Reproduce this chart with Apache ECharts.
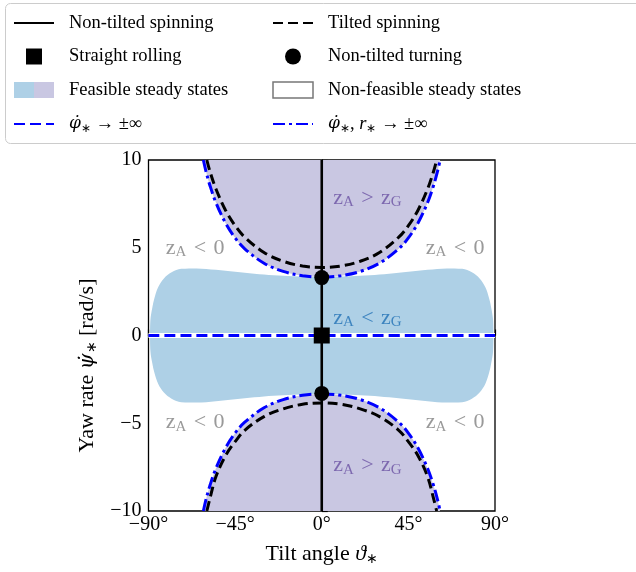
<!DOCTYPE html>
<html>
<head>
<meta charset="utf-8">
<script src="https://cdn.jsdelivr.net/npm/echarts/dist/echarts.min.js"></script>
<style>
html, body { margin: 0; padding: 0; background: #fff; }
#chart { width: 636px; height: 572px; }
</style>
</head>
<body>
<div id="chart"></div>
<script>
// values: tilt angle [deg] vs yaw rate [rad/s]
var tiltAngle = [-59.7, -58, -55, -50, -45, -40, -30, -20, -10, 0, 10, 20, 30, 40, 45, 50, 55, 58, 59.7]
var tiltUpper = [10, 9.32, 8.36, 7.14, 6.26, 5.6, 4.73, 4.23, 3.96, 3.88, 3.96, 4.23, 4.73, 5.6, 6.26, 7.14, 8.36, 9.32, 10]
var tiltLower = [-10, -9.25, -8.05, -6.85, -6.05, -5.4, -4.62, -4.18, -3.92, -3.84, -3.92, -4.18, -4.62, -5.4, -6.05, -6.85, -8.05, -9.25, -10]

var limitAngle = [-61.5, -60, -58, -55, -50, -45, -40, -30, -20, -10, 0, 10, 20, 30, 40, 45, 50, 55, 58, 60, 61.5]
var limitUpper = [10, 9.29, 8.52, 7.58, 6.41, 5.56, 4.94, 4.12, 3.65, 3.41, 3.33, 3.41, 3.65, 4.12, 4.94, 5.56, 6.41, 7.58, 8.52, 9.29, 10]
var limitLower = [-10, -9.29, -8.52, -7.58, -6.41, -5.56, -4.94, -4.12, -3.65, -3.41, -3.33, -3.41, -3.65, -4.12, -4.94, -5.56, -6.41, -7.58, -8.52, -9.29, -10]

var feasibleAngle = [-89.2, -89, -88, -87, -85, -82, -78, -73, -65, -55, -45, -35, -25, -15, 0, 15, 25, 35, 45, 55, 65, 73, 78, 82, 85, 87, 88, 89, 89.2]
var feasibleUpper = [0, 0.9, 1.6, 2.1, 2.75, 3.25, 3.6, 3.8, 3.82, 3.74, 3.63, 3.52, 3.43, 3.37, 3.33, 3.37, 3.43, 3.52, 3.63, 3.74, 3.82, 3.8, 3.6, 3.25, 2.75, 2.1, 1.6, 0.9, 0]
var feasibleLower = [0, -0.9, -1.6, -2.1, -2.75, -3.25, -3.6, -3.8, -3.82, -3.74, -3.63, -3.52, -3.43, -3.37, -3.33, -3.37, -3.43, -3.52, -3.63, -3.74, -3.82, -3.8, -3.6, -3.25, -2.75, -2.1, -1.6, -0.9, 0]

var turningRate = [3.3, -3.3]
var xTicks = [-90, -45, 0, 45, 90]
var yTicks = [-10, -5, 0, 5, 10]

// region labels
var noteAngle = [6, 6, 6, -81, 54, -81, 54]
var noteRate = [7.85, -7.4, 1.0, 5.0, 5.0, -4.95, -4.95]
var noteKind = ['gt', 'gt', 'ltG', 'lt0', 'lt0', 'lt0', 'lt0']

var BLUE_AREA = '#aed0e6'
var PURPLE_AREA = '#c9c7e2'
var SERIF = 'Liberation Serif'
var MATH = 'DejaVu Serif'

function zip(xs, ys) {
  return xs.map(function(x, i) { return [x, ys[i]] })
}
function minus(v) {
  return v < 0 ? '\u2212' + Math.abs(v) : String(v)
}

var legendText = {
  phiInf: '{d|\u03c6\u0307}{s|\u2217} \u2192 \u00b1\u221e',
  phiRInf: '{d|\u03c6\u0307}{s|\u2217}, {i|r}{s|\u2217} \u2192 \u00b1\u221e'
}
// math spacing round the relation signs
var noteText = {
  gt: '{z|z}{a|A}{z|\u2004>\u2004z}{a|G}',
  ltG: '{z|z}{a|A}{z|\u2004<\u2004z}{a|G}',
  lt0: '{z|z}{a|A}{z|\u2004<\u20040}'
}
var noteColor = { gt: '#6a51a3', ltG: '#2171b5', lt0: '#808080' }

var legendRich = {
  d: { fontStyle: 'italic', fontSize: 17, fontFamily: MATH, lineHeight: 20 },
  i: { fontStyle: 'italic', fontSize: 18.5, fontFamily: SERIF, lineHeight: 20 },
  s: { fontSize: 12, fontFamily: SERIF, lineHeight: 20, padding: [9, 0, 0, 0] }
}

var nameRich = {
  t: { fontSize: 22, fontFamily: SERIF, color: '#000', lineHeight: 22 },
  i: { fontSize: 22, fontFamily: SERIF, fontStyle: 'italic', color: '#000', lineHeight: 22 },
  d: { fontSize: 20, fontFamily: MATH, fontStyle: 'italic', color: '#000', lineHeight: 22 },
  s: { fontSize: 14, fontFamily: SERIF, color: '#000', lineHeight: 22, padding: [10, 0, 0, 0] }
}

function lineSeries(name, data, color, width, type) {
  return {
    name: name,
    type: 'line',
    z: 3,
    data: data,
    symbol: 'none',
    smooth: 0.35,
    silent: true,
    lineStyle: { color: color, width: width, type: type },
    itemStyle: { color: color }
  }
}

function areaSeries(name, data, color, origin) {
  return {
    name: name,
    type: 'line',
    z: 1,
    data: data,
    symbol: 'none',
    smooth: 0.35,
    silent: true,
    lineStyle: { width: 0 },
    itemStyle: { color: color },
    areaStyle: { color: color, opacity: 1, origin: origin }
  }
}

var chart = echarts.init(document.getElementById('chart'), null, { renderer: 'canvas' })

var hideSymbol = { opacity: 0 }

var legendBase = {
  orient: 'vertical',
  top: 13,
  padding: 0,
  itemWidth: 40,
  itemHeight: 16,
  itemGap: 13.5,
  selectedMode: false,
  textStyle: {
    fontFamily: SERIF,
    fontSize: 18.5,
    lineHeight: 20,
    color: '#000',
    padding: [0, 0, 0, 10],
    rich: legendRich
  },
  formatter: function(name) {
    return legendText[name] || name
  }
}

chart.setOption({
  animation: false,
  textStyle: { fontFamily: SERIF },
  graphic: [{
    type: 'rect',
    z: 0,
    shape: { x: 5.5, y: 3.5, width: 660, height: 140, r: 5 },
    style: { fill: '#fff', stroke: '#cccccc', lineWidth: 1 }
  }],
  legend: [
    Object.assign({}, legendBase, {
      left: 13,
      data: [
        { name: 'Non-tilted spinning', itemStyle: hideSymbol },
        { name: 'Straight rolling', icon: 'path://M0 0H10V10H0Z', itemStyle: { color: '#000', opacity: 1 } },
        {
          name: 'Feasible steady states',
          icon: 'rect',
          itemStyle: {
            color: {
              type: 'linear', x: 0, y: 0, x2: 1, y2: 0,
              colorStops: [
                { offset: 0, color: BLUE_AREA }, { offset: 0.5, color: BLUE_AREA },
                { offset: 0.5, color: PURPLE_AREA }, { offset: 1, color: PURPLE_AREA }
              ]
            },
            borderWidth: 0
          }
        },
        { name: 'phiInf', itemStyle: hideSymbol }
      ]
    }),
    Object.assign({}, legendBase, {
      left: 272,
      data: [
        { name: 'Tilted spinning', itemStyle: hideSymbol },
        { name: 'Non-tilted turning', icon: 'circle', itemStyle: { color: '#000', opacity: 1 } },
        { name: 'Non-feasible steady states', icon: 'rect', itemStyle: { color: '#fff', borderColor: '#777', borderWidth: 1.5 } },
        { name: 'phiRInf', itemStyle: hideSymbol }
      ]
    })
  ],
  grid: {
    left: 148.5,
    right: 141,
    top: 160,
    bottom: 61,
    show: true,
    borderColor: '#000',
    borderWidth: 1.3,
    outerBoundsMode: 'none'
  },
  xAxis: {
    type: 'value',
    min: -90,
    max: 90,
    interval: 45,
    name: '{t|Tilt angle }{i|\u03d1}{s|\u2217}',
    nameLocation: 'middle',
    nameGap: 32,
    nameTextStyle: { rich: nameRich },
    axisLine: { lineStyle: { color: '#000', width: 1.3 } },
    axisTick: { inside: true, length: 6, lineStyle: { color: '#000', width: 1.2 } },
    axisLabel: {
      margin: 4,
      fontSize: 20,
      fontFamily: SERIF,
      color: '#000',
      formatter: function(v) { return minus(v) + '\u00b0' }
    },
    splitLine: { show: false }
  },
  yAxis: {
    type: 'value',
    min: -10,
    max: 10,
    interval: 5,
    name: '{t|Yaw rate }{d|\u03c8\u0307}{s|\u2217}{t| [rad/s]}',
    nameLocation: 'middle',
    nameGap: 50,
    nameTextStyle: {
      padding: [0, 60, 0, 0],
      rich: nameRich
    },
    axisLine: { lineStyle: { color: '#000', width: 1.3 } },
    axisTick: { inside: true, length: 6, lineStyle: { color: '#000', width: 1.2 } },
    axisLabel: {
      margin: 7,
      fontSize: 20,
      fontFamily: SERIF,
      color: '#000',
      formatter: minus
    },
    splitLine: { show: false }
  },
  series: [
    areaSeries('Feasible steady states', zip(feasibleAngle, feasibleUpper), BLUE_AREA, 'auto'),
    areaSeries('Feasible steady states', zip(feasibleAngle, feasibleLower), BLUE_AREA, 'auto'),
    areaSeries('', zip(limitAngle, limitUpper), PURPLE_AREA, 'end'),
    areaSeries('', zip(limitAngle, limitLower), PURPLE_AREA, 'start'),
    { name: 'Non-feasible steady states', type: 'line', data: [], symbol: 'none', itemStyle: { color: '#fff' } },
    lineSeries('', [[xTicks[0], 0], [xTicks[4], 0]], '#fff', 5, 'solid'),
    lineSeries('phiInf', [[xTicks[0], 0], [xTicks[4], 0]], '#0000ff', 3, [11, 5]),
    lineSeries('Non-tilted spinning', [[0, yTicks[0]], [0, yTicks[4]]], '#000', 2.6, 'solid'),
    lineSeries('Tilted spinning', zip(tiltAngle, tiltUpper), '#000', 3, [10, 5]),
    lineSeries('Tilted spinning', zip(tiltAngle, tiltLower), '#000', 3, [10, 5]),
    lineSeries('phiRInf', zip(limitAngle, limitUpper), '#0000ff', 3, [12, 4, 3, 4]),
    lineSeries('phiRInf', zip(limitAngle, limitLower), '#0000ff', 3, [12, 4, 3, 4]),
    {
      name: 'Straight rolling',
      type: 'scatter',
      z: 5,
      symbol: 'rect',
      symbolSize: 16,
      silent: true,
      itemStyle: { color: '#000', opacity: 1 },
      data: [[0, 0]]
    },
    {
      name: 'Non-tilted turning',
      type: 'scatter',
      z: 5,
      symbol: 'circle',
      symbolSize: 15,
      silent: true,
      itemStyle: { color: '#000', opacity: 1 },
      data: turningRate.map(function(r) { return [0, r] })
    },
    {
      name: 'notes',
      type: 'scatter',
      z: 5,
      symbolSize: 0,
      silent: true,
      data: noteAngle.map(function(a, i) {
        var k = noteKind[i]
        return {
          value: [a, noteRate[i]],
          label: {
            show: true,
            position: 'right',
            distance: 0,
            formatter: noteText[k],
            rich: {
              z: { fontSize: 22, fontFamily: SERIF, color: noteColor[k], lineHeight: 22 },
              a: { fontSize: 15, fontFamily: SERIF, color: noteColor[k], lineHeight: 22, padding: [9, 0, 0, 0] }
            }
          }
        }
      })
    }
  ]
})
</script>
</body>
</html>
